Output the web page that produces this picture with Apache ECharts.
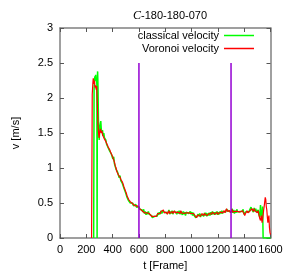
<!DOCTYPE html>
<html><head><meta charset="utf-8">
<script src="https://cdn.jsdelivr.net/npm/echarts@6/dist/echarts.min.js"></script>
<style>html,body{margin:0;padding:0;background:#fff}#c{width:300px;height:276px}</style>
</head><body><div id="c"></div>
<script>
var titleText = '-180-180-070';
var xTicks = [0, 200, 400, 600, 800, 1000, 1200, 1400, 1600];
var yTicks = [0, 0.5, 1, 1.5, 2, 2.5, 3];
var seriesNames = ['classical velocity', 'Voronoi velocity'];
var markerFrames = [600, 1300];
var markerTop = 2.5;

var classical = [[256,0],[259,2.12],[262,2.26],[265,2.31],[268,2.28],[271,2.33],[274,2.24],[277,2.29],[280,2.20],[282,0],[284,2.30],[286,2.38],[289,2.15],[292,1.70],[295,1.52],[298,1.40],[302,1.58],[306,1.62],[310,1.67],[314,1.55],[318,1.50],[323,1.54],[328,1.46],[333,1.50],[338,1.43],[343,1.41],[348,1.40],[354,1.34],[360,1.35],[366,1.29],[372,1.31],[378,1.24],[384,1.25],[390,1.20],[396,1.19],[402,1.13],[408,1.16],[414,1.06],[420,1.05],[426,0.98],[432,0.97],[438,0.94],[444,0.92],[450,0.86],[456,0.89],[462,0.82],[468,0.84],[474,0.78],[480,0.79],[486,0.71],[492,0.72],[498,0.65],[504,0.66],[510,0.58],[516,0.59],[522,0.53],[528,0.55],[534,0.50],[540,0.52],[546,0.49],[552,0.50],[558,0.46],[564,0.48],[570,0.45],[576,0.48],[582,0.44],[588,0.45],[594,0.43],[600,0.45],[606,0.41],[612,0.42],[618,0.39],[624,0.40],[630,0.37],[636,0.41],[642,0.35],[648,0.38],[654,0.33],[660,0.37],[666,0.34],[672,0.38],[678,0.34],[684,0.36],[690,0.32],[696,0.32],[702,0.29],[708,0.30],[714,0.30],[720,0.31],[726,0.32],[732,0.32],[738,0.31],[744,0.36],[750,0.33],[756,0.37],[762,0.34],[768,0.39],[774,0.35],[780,0.38],[786,0.38],[792,0.37],[798,0.37],[804,0.36],[810,0.36],[816,0.35],[822,0.35],[828,0.40],[834,0.34],[840,0.38],[846,0.35],[852,0.39],[858,0.34],[864,0.38],[870,0.38],[876,0.37],[882,0.37],[888,0.34],[894,0.38],[900,0.35],[906,0.39],[912,0.34],[918,0.38],[924,0.37],[930,0.33],[936,0.38],[942,0.34],[948,0.37],[954,0.32],[960,0.37],[966,0.36],[972,0.36],[978,0.35],[984,0.35],[990,0.38],[996,0.34],[1002,0.37],[1008,0.32],[1014,0.36],[1020,0.32],[1026,0.33],[1032,0.29],[1038,0.30],[1044,0.30],[1050,0.34],[1056,0.31],[1062,0.35],[1068,0.30],[1074,0.34],[1080,0.34],[1086,0.35],[1092,0.31],[1098,0.36],[1104,0.32],[1110,0.36],[1116,0.31],[1122,0.35],[1128,0.32],[1134,0.36],[1140,0.32],[1146,0.37],[1152,0.33],[1158,0.38],[1164,0.34],[1170,0.37],[1176,0.33],[1182,0.37],[1188,0.34],[1194,0.38],[1200,0.33],[1206,0.37],[1212,0.34],[1218,0.38],[1224,0.35],[1230,0.39],[1236,0.35],[1242,0.38],[1248,0.38],[1254,0.37],[1260,0.37],[1266,0.41],[1272,0.39],[1278,0.39],[1284,0.38],[1290,0.38],[1296,0.37],[1302,0.37],[1308,0.42],[1314,0.36],[1320,0.40],[1326,0.35],[1332,0.39],[1338,0.36],[1344,0.41],[1350,0.37],[1356,0.37],[1362,0.37],[1368,0.38],[1374,0.38],[1380,0.37],[1386,0.38],[1392,0.41],[1398,0.34],[1404,0.33],[1410,0.34],[1416,0.38],[1422,0.38],[1428,0.37],[1434,0.37],[1440,0.38],[1446,0.38],[1452,0.44],[1458,0.41],[1464,0.41],[1470,0.37],[1476,0.43],[1482,0.38],[1488,0.42],[1494,0.37],[1500,0.37],[1506,0.40],[1512,0.34],[1518,0.30],[1524,0.47],[1530,0.33],[1536,0.25],[1540,0.45],[1544,0.0],[1600,0.0]];

var voronoi = [[240,0],[245,2.05],[250,2.22],[253,2.28],[257,2.20],[262,2.25],[266,2.15],[270,2.18],[275,2.12],[279,2.17],[284,1.90],[289,1.60],[293,1.50],[297,1.43],[302,1.52],[307,1.56],[312,1.50],[318,1.53],[324,1.47],[330,1.49],[336,1.42],[342,1.44],[348,1.38],[354,1.36],[360,1.33],[366,1.30],[372,1.29],[378,1.26],[384,1.23],[390,1.22],[396,1.18],[402,1.15],[408,1.14],[414,1.08],[420,1.03],[426,1.00],[432,0.95],[438,0.96],[444,0.90],[450,0.88],[456,0.87],[462,0.84],[468,0.82],[474,0.80],[480,0.77],[486,0.73],[492,0.70],[498,0.67],[504,0.64],[510,0.60],[516,0.58],[522,0.55],[528,0.53],[534,0.52],[540,0.50],[546,0.51],[552,0.49],[558,0.48],[564,0.49],[570,0.46],[576,0.47],[582,0.45],[588,0.46],[594,0.44],[600,0.44],[606,0.42],[612,0.40],[618,0.41],[624,0.39],[630,0.38],[636,0.40],[642,0.36],[648,0.37],[654,0.34],[660,0.36],[666,0.35],[672,0.37],[678,0.35],[684,0.37],[690,0.33],[696,0.31],[702,0.30],[708,0.29],[714,0.31],[720,0.30],[726,0.33],[732,0.31],[738,0.32],[744,0.35],[750,0.34],[756,0.36],[762,0.35],[768,0.38],[774,0.36],[780,0.37],[786,0.40],[792,0.36],[798,0.38],[804,0.35],[810,0.37],[816,0.34],[822,0.36],[828,0.39],[834,0.35],[840,0.37],[846,0.36],[852,0.38],[858,0.35],[864,0.37],[870,0.39],[876,0.36],[882,0.38],[888,0.35],[894,0.37],[900,0.36],[906,0.38],[912,0.35],[918,0.39],[924,0.36],[930,0.34],[936,0.37],[942,0.35],[948,0.36],[954,0.33],[960,0.36],[966,0.37],[972,0.35],[978,0.36],[984,0.34],[990,0.37],[996,0.35],[1002,0.36],[1008,0.33],[1014,0.35],[1020,0.33],[1026,0.32],[1032,0.30],[1038,0.29],[1044,0.31],[1050,0.33],[1056,0.32],[1062,0.34],[1068,0.31],[1074,0.33],[1080,0.35],[1086,0.34],[1092,0.32],[1098,0.35],[1104,0.33],[1110,0.35],[1116,0.32],[1122,0.34],[1128,0.33],[1134,0.35],[1140,0.33],[1146,0.36],[1152,0.34],[1158,0.37],[1164,0.35],[1170,0.36],[1176,0.34],[1182,0.36],[1188,0.35],[1194,0.37],[1200,0.34],[1206,0.36],[1212,0.35],[1218,0.37],[1224,0.36],[1230,0.38],[1236,0.36],[1242,0.37],[1248,0.39],[1254,0.36],[1260,0.38],[1266,0.42],[1272,0.38],[1278,0.40],[1284,0.37],[1290,0.39],[1296,0.36],[1302,0.38],[1308,0.41],[1314,0.37],[1320,0.39],[1326,0.36],[1332,0.38],[1338,0.37],[1344,0.40],[1350,0.38],[1356,0.36],[1362,0.38],[1368,0.37],[1374,0.39],[1380,0.36],[1386,0.39],[1392,0.40],[1398,0.35],[1404,0.32],[1410,0.35],[1416,0.37],[1422,0.39],[1428,0.36],[1434,0.38],[1440,0.37],[1446,0.39],[1452,0.40],[1458,0.42],[1464,0.40],[1470,0.38],[1476,0.42],[1482,0.39],[1488,0.41],[1494,0.38],[1500,0.36],[1506,0.39],[1512,0.33],[1518,0.28],[1524,0.25],[1530,0.32],[1536,0.22],[1542,0.30],[1548,0.40],[1554,0.48],[1560,0.58],[1564,0.55],[1568,0.45],[1572,0.40],[1576,0.30],[1580,0.22],[1584,0.28],[1588,0.32],[1592,0.15],[1596,0.08],[1600,0.05]];

var FONT = 'Liberation Sans';
var AX = '#808080';
var chart = echarts.init(document.getElementById('c'), null, {renderer: 'canvas'});

function xAx(pos, show) {
  return {
    type: 'value', position: pos, min: xTicks[0], max: xTicks[xTicks.length - 1], interval: 200,
    axisLine: {show: true, onZero: false, lineStyle: {color: AX, width: 1.5}},
    axisTick: {show: true, inside: true, length: 4, lineStyle: {color: '#555', width: 1}},
    axisLabel: {show: show, color: '#000', fontFamily: FONT, fontSize: 11, margin: 6,
      showMinLabel: true, showMaxLabel: true, hideOverlap: false,
      formatter: function (v) { return String(v); }},
    splitLine: {show: false},
    name: show ? 't [Frame]' : '', nameLocation: 'middle', nameGap: 22,
    nameTextStyle: {color: '#000', fontFamily: FONT, fontSize: 11}
  };
}
function yAx(pos, show) {
  return {
    type: 'value', position: pos, min: yTicks[0], max: yTicks[yTicks.length - 1], interval: 0.5,
    axisLine: {show: true, onZero: false, lineStyle: {color: AX, width: 1.5}},
    axisTick: {show: true, inside: true, length: 4, lineStyle: {color: '#555', width: 1}},
    axisLabel: {show: show, color: '#000', fontFamily: FONT, fontSize: 11, margin: 7,
      showMinLabel: true, showMaxLabel: true},
    splitLine: {show: false},
    name: show ? 'v [m/s]' : '', nameLocation: 'middle', nameGap: 39, nameRotate: 90,
    nameTextStyle: {color: '#000', fontFamily: FONT, fontSize: 11}
  };
}

var markerSeries = markerFrames.map(function (f) {
  return {
    type: 'line', data: [[f, yTicks[0]], [f, markerTop]], symbol: 'none', silent: true,
    lineStyle: {color: '#9400d3', width: 1.5}, z: 5
  };
});

chart.setOption({
  animation: false,
  backgroundColor: '#fff',
  title: {
    text: '{i|C}{n|' + titleText + '}',
    left: 165, top: 5, textAlign: 'center',
    textStyle: {
      fontWeight: 'normal',
      rich: {
        i: {fontFamily: 'Liberation Serif', fontStyle: 'italic', fontWeight: 'normal', fontSize: 12, color: '#000'},
        n: {fontFamily: FONT, fontWeight: 'normal', fontSize: 11, color: '#000'}
      }
    }
  },
  grid: {left: 60, right: 29.5, top: 28, bottom: 37, containLabel: false},
  legend: {
    data: seriesNames, orient: 'vertical', align: 'right', right: 41, top: 25,
    itemWidth: 30, itemHeight: 1.5, itemGap: 2, icon: 'rect',
    textStyle: {fontFamily: FONT, fontSize: 11, color: '#000'}
  },
  xAxis: [xAx('bottom', true), xAx('top', false)],
  yAxis: [yAx('left', true), yAx('right', false)],
  series: [
    {name: seriesNames[0], type: 'line', data: classical, symbol: 'none', color: '#00ff00',
     lineStyle: {color: '#00ff00', width: 1.5}, z: 2},
    {name: seriesNames[1], type: 'line', data: voronoi, symbol: 'none', color: '#ff0000',
     lineStyle: {color: '#ff0000', width: 1.2}, z: 3}
  ].concat(markerSeries)
});
</script></body></html>
